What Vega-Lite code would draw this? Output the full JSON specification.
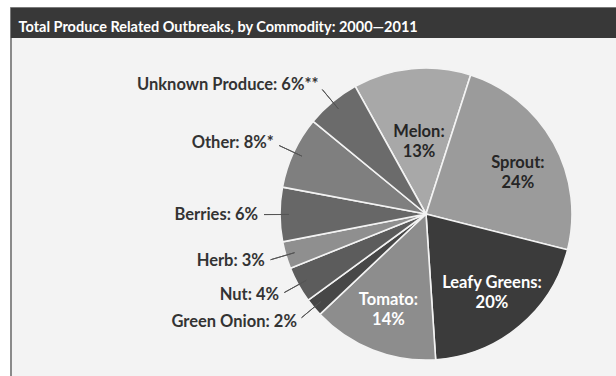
{
  "$schema": "https://vega.github.io/schema/vega-lite/v6.json",
  "background": "#ffffff",
  "padding": {"left": 9, "top": 6, "right": 0, "bottom": 0},
  "title": {
    "text": "Total Produce Related Outbreaks, by Commodity: 2000—2011",
    "anchor": "start",
    "orient": "top",
    "offset": -22,
    "dx": 9,
    "dy": 18,
    "baseline": "alphabetic",
    "color": "#ffffff",
    "font": "Lato",
    "fontSize": 14.5,
    "fontWeight": "bold"
  },
  "spacing": 0,
  "bounds": "flush",
  "vconcat": [
    {
      "width": 607,
      "height": 31,
      "view": {"fill": "#383838", "stroke": "#7a7a7a", "strokeWidth": 1},
      "data": {"values": []},
      "mark": "text",
      "encoding": {}
    },
    {
      "spacing": 0,
      "bounds": "flush",
      "hconcat": [
        {
          "width": 2,
          "height": 352,
          "view": {"fill": "#8a8a8a", "stroke": null},
          "data": {"values": []},
          "mark": "text",
          "encoding": {}
        },
        {
          "width": 223,
          "height": 352,
          "view": {"fill": "#f3f3f3", "stroke": null},
          "data": {"values": []},
          "mark": "text",
          "encoding": {}
        },
        {
          "width": 382,
          "height": 352,
          "view": {"fill": "#f3f3f3", "stroke": null},
          "data": {
            "values": [
              {"commodity": "Melon", "pct": 13, "label": "Melon:\n13%"},
              {"commodity": "Sprout", "pct": 24, "label": "Sprout:\n24%"},
              {"commodity": "Leafy Greens", "pct": 20, "label": "Leafy Greens:\n20%"},
              {"commodity": "Tomato", "pct": 14, "label": "Tomato:\n14%"},
              {"commodity": "Green Onion", "pct": 2, "label": "Green Onion: 2%"},
              {"commodity": "Nut", "pct": 4, "label": "Nut: 4%"},
              {"commodity": "Herb", "pct": 3, "label": "Herb: 3%"},
              {"commodity": "Berries", "pct": 6, "label": "Berries: 6%"},
              {"commodity": "Other", "pct": 8, "label": "Other: 8%*"},
              {"commodity": "Unknown Produce", "pct": 6, "label": "Unknown Produce: 6%**"}
            ]
          },
          "transform": [{"window": [{"op": "row_number", "as": "rank"}]}],
          "encoding": {
            "theta": {"field": "pct", "type": "quantitative", "stack": true, "scale": {"range": [-0.506, 5.777]}},
            "order": {"field": "rank", "type": "quantitative"},
            "detail": {"field": "commodity", "type": "nominal"}
          },
          "layer": [
            {
              "mark": {"type": "arc", "radius": 146, "stroke": "#f3f3f3", "strokeWidth": 1.6},
              "encoding": {
                "color": {
                  "field": "commodity",
                  "type": "nominal",
                  "legend": null,
                  "scale": {
                    "domain": ["Melon", "Sprout", "Leafy Greens", "Tomato", "Green Onion", "Nut", "Herb", "Berries", "Other", "Unknown Produce"],
                    "range": ["#a8a8a8", "#9b9b9b", "#3b3b3b", "#8d8d8d", "#474747", "#5c5c5c", "#8f8f8f", "#676767", "#7f7f7f", "#6b6b6b"]
                  }
                }
              }
            },
            {
              "mark": {"type": "arc", "radius": 162, "radius2": 137, "padAngle": 3, "fillOpacity": 0, "stroke": "#555555", "strokeWidth": 1},
              "encoding": {
                "strokeOpacity": {
                  "condition": {"test": "indexof(['Green Onion','Nut','Herb','Berries','Other','Unknown Produce'], datum.commodity) >= 0", "value": 1},
                  "value": 0
                }
              }
            },
            {
              "mark": {"type": "text", "radius": 72, "dy": -10, "font": "Lato", "fontSize": 16.5, "fontWeight": "bold", "lineBreak": "\n", "lineHeight": 20, "align": "center", "baseline": "middle", "color": "#262626"},
              "encoding": {
                "text": {"condition": {"test": "datum.commodity === 'Melon'", "field": "label"}, "value": ""}
              }
            },
            {
              "mark": {"type": "text", "radius": 105, "font": "Lato", "fontSize": 16.5, "fontWeight": "bold", "lineBreak": "\n", "lineHeight": 20, "align": "center", "baseline": "middle", "color": "#262626"},
              "encoding": {
                "text": {"condition": {"test": "datum.commodity === 'Sprout'", "field": "label"}, "value": ""}
              }
            },
            {
              "mark": {"type": "text", "radius": 103, "dy": -10, "font": "Lato", "fontSize": 16.5, "fontWeight": "bold", "lineBreak": "\n", "lineHeight": 20, "align": "center", "baseline": "middle", "color": "#ffffff"},
              "encoding": {
                "text": {"condition": {"test": "indexof(['Leafy Greens','Tomato'], datum.commodity) >= 0", "field": "label"}, "value": ""}
              }
            },
            {
              "mark": {"type": "text", "radius": 168, "font": "Lato", "fontSize": 16.5, "fontWeight": "bold", "align": "right", "baseline": "middle", "color": "#333333"},
              "encoding": {
                "text": {"condition": {"test": "indexof(['Green Onion','Nut','Herb','Berries','Other','Unknown Produce'], datum.commodity) >= 0", "field": "label"}, "value": ""}
              }
            }
          ]
        }
      ]
    }
  ],
  "config": {"view": {"stroke": null}, "font": "Lato"}
}
